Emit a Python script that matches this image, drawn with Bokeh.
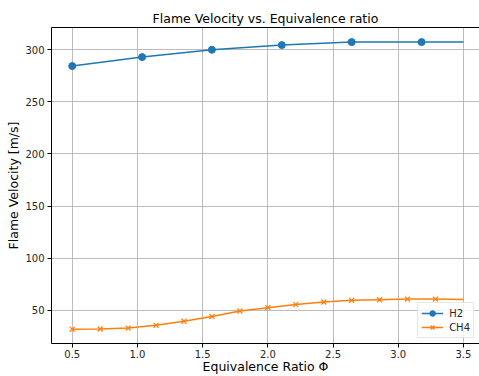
from bokeh.plotting import figure
from bokeh.models import Range1d, FixedTicker, LinearAxis
from bokeh.embed import file_html
from bokeh.resources import INLINE

# --- data ---
h2_phi = [0.5, 1.036, 1.571, 2.107, 2.643, 3.179, 3.5]
h2_vel = [284.3, 292.9, 300.0, 304.4, 307.3, 307.3, 307.3]

ch4_phi = [0.5, 0.714, 0.929, 1.143, 1.357, 1.571, 1.786, 2.0, 2.214, 2.429,
           2.643, 2.857, 3.071, 3.286, 3.5]
ch4_vel = [31.8, 32.1, 33.0, 35.6, 39.5, 44.0, 49.4, 52.6, 55.5, 58.0,
           59.6, 60.2, 60.8, 60.8, 60.5]

x_ticks = [0.5, 1.0, 1.5, 2.0, 2.5, 3.0, 3.5]
x_tick_labels = ["0.5", "1.0", "1.5", "2.0", "2.5", "3.0", "3.5"]
y_ticks = [50, 100, 150, 200, 250, 300]

BLUE = "#1f77b4"
ORANGE = "#ff7f0e"
FONT = "DejaVu Sans"

p = figure(width=479, height=376, output_backend="svg", toolbar_location=None,
           x_range=Range1d(0.341, 3.623), y_range=Range1d(18.2, 321.3),
           title="Flame Velocity vs. Equivalence ratio",
           min_border_left=51, min_border_right=0, min_border_top=27, min_border_bottom=0)

p.title.align = "center"
p.title.text_font = FONT
p.title.text_font_style = "normal"
p.title.text_font_size = "12.5px"
p.title.text_color = "#000000"
p.title.standoff = 3

p.outline_line_color = None
p.background_fill_color = "white"
p.border_fill_color = "white"

for ax in (p.xaxis[0], p.yaxis[0]):
    ax.axis_line_color = "#000000"
    ax.axis_line_width = 1
    ax.major_tick_line_color = "#000000"
    ax.major_tick_out = 4
    ax.major_tick_in = 0
    ax.minor_tick_out = 0
    ax.minor_tick_in = 0
    ax.major_label_text_font = FONT
    ax.major_label_text_font_size = "10px"
    ax.major_label_text_color = "#262626"
    ax.major_label_standoff = 3
    ax.axis_label_text_font = FONT
    ax.axis_label_text_font_size = "12.5px"
    ax.axis_label_text_font_style = "normal"
    ax.axis_label_text_color = "#000000"

p.xaxis[0].ticker = FixedTicker(ticks=x_ticks)
p.xaxis[0].major_label_overrides = dict(zip(x_ticks, x_tick_labels))
p.yaxis[0].ticker = FixedTicker(ticks=y_ticks)
p.xaxis[0].axis_label = "Equivalence Ratio \u03a6"
p.yaxis[0].axis_label = "Flame Velocity [m/s]"
p.xaxis[0].major_label_standoff = 2
p.xaxis[0].axis_label_standoff = -2
p.yaxis[0].axis_label_standoff = 1

top = LinearAxis(ticker=FixedTicker(ticks=[]), major_label_text_font_size="0px",
                 major_tick_out=0, major_tick_in=0, minor_tick_out=0, minor_tick_in=0,
                 axis_line_color="#000000", axis_line_width=1)
p.add_layout(top, "above")

p.grid.grid_line_color = "#b0b0b0"
p.grid.grid_line_width = 1
p.grid.grid_line_alpha = 0.85

p.line(h2_phi, h2_vel, line_color=BLUE, line_width=1.5, legend_label="H2")
p.scatter(h2_phi[:-1], h2_vel[:-1], marker="circle", size=7, fill_color=BLUE,
          line_color=BLUE, legend_label="H2")

p.line(ch4_phi, ch4_vel, line_color=ORANGE, line_width=1.5, legend_label="CH4")
p.scatter(ch4_phi[:-1], ch4_vel[:-1], marker="x", size=7, line_color=ORANGE,
          line_width=1.3, legend_label="CH4")

lg = p.legend[0]
lg.location = "bottom_right"
lg.margin = 5
lg.padding = 3
lg.spacing = 0
lg.label_text_font = FONT
lg.label_text_font_size = "10px"
lg.label_text_color = "#262626"
lg.label_height = 14
lg.glyph_height = 14
lg.glyph_width = 22
lg.label_standoff = 6
lg.border_line_color = "#cccccc"
lg.border_line_width = 1
lg.background_fill_alpha = 0.8

open("out.html", "w").write(file_html(p, INLINE))
